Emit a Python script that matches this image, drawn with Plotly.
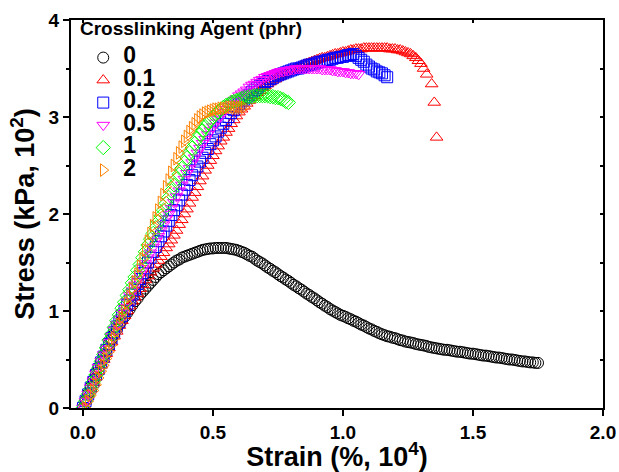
import plotly.graph_objects as go

legend_labels = ["0", "0.1", "0.2", "0.5", "1", "2"]
legend_title = "Crosslinking Agent (phr)"
colors = ["#000000", "#FF0000", "#0000FF", "#FF00FF", "#00FF00", "#FF8000"]
symbols = ["circle-open", "triangle-up-open", "square-open", "triangle-down-open", "diamond-open", "triangle-right-open"]

# --- 0 phr ---
x0 = [0.00, 0.01, 0.02, 0.03, 0.04, 0.05, 0.06, 0.07, 0.08, 0.09,
      0.10, 0.11, 0.12, 0.13, 0.14, 0.15, 0.16, 0.17, 0.18, 0.19,
      0.20, 0.21, 0.22, 0.23, 0.24, 0.25, 0.26, 0.27, 0.28, 0.29,
      0.30, 0.31, 0.32, 0.33, 0.34, 0.35, 0.36, 0.37, 0.38, 0.39,
      0.40, 0.41, 0.42, 0.43, 0.44, 0.45, 0.46, 0.47, 0.48, 0.49,
      0.50, 0.51, 0.52, 0.53, 0.54, 0.55, 0.56, 0.57, 0.58, 0.59,
      0.60, 0.61, 0.62, 0.63, 0.64, 0.65, 0.66, 0.67, 0.68, 0.69,
      0.70, 0.71, 0.72, 0.73, 0.74, 0.75, 0.76, 0.77, 0.78, 0.79,
      0.80, 0.81, 0.82, 0.83, 0.84, 0.85, 0.86, 0.87, 0.88, 0.89,
      0.90, 0.91, 0.92, 0.93, 0.94, 0.95, 0.96, 0.97, 0.98, 0.99,
      1.00, 1.01, 1.02, 1.03, 1.04, 1.05, 1.06, 1.07, 1.08, 1.09,
      1.10, 1.11, 1.12, 1.13, 1.14, 1.15, 1.16, 1.17, 1.18, 1.19,
      1.20, 1.21, 1.22, 1.23, 1.24, 1.25, 1.26, 1.27, 1.28, 1.29,
      1.30, 1.31, 1.32, 1.33, 1.34, 1.35, 1.36, 1.37, 1.38, 1.39,
      1.40, 1.41, 1.42, 1.43, 1.44, 1.45, 1.46, 1.47, 1.48, 1.49,
      1.50, 1.51, 1.52, 1.53, 1.54, 1.55, 1.56, 1.57, 1.58, 1.59,
      1.60, 1.61, 1.62, 1.63, 1.64, 1.65, 1.66, 1.67, 1.68, 1.69,
      1.70, 1.71, 1.72, 1.73, 1.74, 1.75]
y0 = [0.00, 0.08, 0.15, 0.22, 0.29, 0.36, 0.42, 0.48, 0.54, 0.60,
      0.66, 0.71, 0.76, 0.81, 0.86, 0.90, 0.94, 0.98, 1.02, 1.06,
      1.10, 1.13, 1.17, 1.20, 1.23, 1.26, 1.29, 1.32, 1.35, 1.38,
      1.40, 1.42, 1.44, 1.46, 1.48, 1.50, 1.52, 1.53, 1.55, 1.56,
      1.57, 1.58, 1.59, 1.60, 1.61, 1.62, 1.63, 1.635, 1.64, 1.645,
      1.645, 1.65, 1.65, 1.65, 1.65, 1.65, 1.645, 1.64, 1.635, 1.63,
      1.62, 1.61, 1.60, 1.585, 1.57, 1.56, 1.54, 1.52, 1.505, 1.49,
      1.47, 1.45, 1.435, 1.415, 1.40, 1.38, 1.36, 1.345, 1.325, 1.31,
      1.29, 1.27, 1.255, 1.235, 1.22, 1.20, 1.18, 1.165, 1.145, 1.13,
      1.11, 1.09, 1.075, 1.055, 1.04, 1.02, 1.005, 0.99, 0.975, 0.96,
      0.95, 0.94, 0.925, 0.915, 0.90, 0.89, 0.875, 0.86, 0.85, 0.835,
      0.82, 0.81, 0.795, 0.785, 0.77, 0.76, 0.75, 0.74, 0.735, 0.725,
      0.72, 0.71, 0.70, 0.695, 0.685, 0.68, 0.675, 0.67, 0.66, 0.655,
      0.65, 0.645, 0.64, 0.63, 0.625, 0.62, 0.615, 0.61, 0.605, 0.60,
      0.60, 0.595, 0.59, 0.585, 0.58, 0.58, 0.575, 0.57, 0.565, 0.56,
      0.56, 0.555, 0.55, 0.545, 0.54, 0.54, 0.535, 0.53, 0.525, 0.52,
      0.52, 0.515, 0.51, 0.505, 0.50, 0.50, 0.495, 0.49, 0.485, 0.48,
      0.48, 0.475, 0.47, 0.47, 0.465, 0.465]

# --- 0.1 phr ---
x1 = [0.00, 0.01, 0.02, 0.03, 0.04, 0.05, 0.06, 0.07, 0.08, 0.09,
      0.10, 0.11, 0.12, 0.13, 0.14, 0.15, 0.16, 0.17, 0.18, 0.19,
      0.20, 0.21, 0.22, 0.23, 0.24, 0.25, 0.26, 0.27, 0.28, 0.29,
      0.30, 0.31, 0.32, 0.33, 0.34, 0.35, 0.36, 0.37, 0.38, 0.39,
      0.40, 0.41, 0.42, 0.43, 0.44, 0.45, 0.46, 0.47, 0.48, 0.49,
      0.50, 0.51, 0.52, 0.53, 0.54, 0.55, 0.56, 0.57, 0.58, 0.59,
      0.60, 0.61, 0.62, 0.63, 0.64, 0.65, 0.66, 0.67, 0.68, 0.69,
      0.70, 0.71, 0.72, 0.73, 0.74, 0.75, 0.76, 0.77, 0.78, 0.79,
      0.80, 0.81, 0.82, 0.83, 0.84, 0.85, 0.86, 0.87, 0.88, 0.89,
      0.90, 0.91, 0.92, 0.93, 0.94, 0.95, 0.96, 0.97, 0.98, 0.99,
      1.00, 1.01, 1.02, 1.03, 1.04, 1.05, 1.06, 1.07, 1.08, 1.09,
      1.10, 1.11, 1.12, 1.13, 1.14, 1.15, 1.16, 1.17, 1.18, 1.19,
      1.20, 1.21, 1.22, 1.23, 1.24, 1.25, 1.26, 1.27, 1.28, 1.29,
      1.30, 1.31, 1.322, 1.341, 1.351, 1.36]
y1 = [0.00, 0.07, 0.14, 0.20, 0.26, 0.32, 0.38, 0.44, 0.50, 0.56,
      0.62, 0.68, 0.74, 0.79, 0.85, 0.90, 0.95, 1.00, 1.05, 1.10,
      1.14, 1.18, 1.23, 1.27, 1.32, 1.36, 1.40, 1.44, 1.48, 1.52,
      1.56, 1.60, 1.65, 1.69, 1.73, 1.78, 1.83, 1.89, 1.94, 2.00,
      2.05, 2.11, 2.17, 2.22, 2.28, 2.34, 2.39, 2.45, 2.50, 2.55,
      2.60, 2.65, 2.70, 2.75, 2.79, 2.84, 2.88, 2.93, 2.97, 3.01,
      3.05, 3.08, 3.11, 3.14, 3.17, 3.20, 3.22, 3.25, 3.27, 3.30,
      3.32, 3.34, 3.36, 3.38, 3.39, 3.41, 3.42, 3.44, 3.45, 3.47,
      3.48, 3.49, 3.50, 3.51, 3.53, 3.54, 3.55, 3.56, 3.57, 3.58,
      3.59, 3.60, 3.61, 3.61, 3.62, 3.63, 3.64, 3.65, 3.65, 3.66,
      3.67, 3.67, 3.68, 3.69, 3.69, 3.70, 3.70, 3.70, 3.71, 3.71,
      3.71, 3.71, 3.71, 3.71, 3.71, 3.71, 3.71, 3.71, 3.70, 3.70,
      3.70, 3.69, 3.69, 3.68, 3.67, 3.66, 3.65, 3.63, 3.61, 3.58,
      3.55, 3.50, 3.44, 3.34, 3.15, 2.79]

# --- 0.2 phr ---
x2 = [0.00, 0.01, 0.02, 0.03, 0.04, 0.05, 0.06, 0.07, 0.08, 0.09,
      0.10, 0.11, 0.12, 0.13, 0.14, 0.15, 0.16, 0.17, 0.18, 0.19,
      0.20, 0.21, 0.22, 0.23, 0.24, 0.25, 0.26, 0.27, 0.28, 0.29,
      0.30, 0.31, 0.32, 0.33, 0.34, 0.35, 0.36, 0.37, 0.38, 0.39,
      0.40, 0.41, 0.42, 0.43, 0.44, 0.45, 0.46, 0.47, 0.48, 0.49,
      0.50, 0.51, 0.52, 0.53, 0.54, 0.55, 0.56, 0.57, 0.58, 0.59,
      0.60, 0.61, 0.62, 0.63, 0.64, 0.65, 0.66, 0.67, 0.68, 0.69,
      0.70, 0.71, 0.72, 0.73, 0.74, 0.75, 0.76, 0.77, 0.78, 0.79,
      0.80, 0.81, 0.82, 0.83, 0.84, 0.85, 0.86, 0.87, 0.88, 0.89,
      0.90, 0.91, 0.92, 0.93, 0.94, 0.95, 0.96, 0.97, 0.98, 0.99,
      1.00, 1.01, 1.02, 1.03, 1.04, 1.05, 1.06, 1.07, 1.08, 1.09,
      1.10, 1.11, 1.12, 1.13, 1.14, 1.15, 1.16, 1.17]
y2 = [0.00, 0.07, 0.14, 0.21, 0.27, 0.34, 0.40, 0.47, 0.53, 0.60,
      0.66, 0.72, 0.78, 0.84, 0.89, 0.95, 1.00, 1.06, 1.11, 1.17,
      1.22, 1.28, 1.33, 1.39, 1.44, 1.50, 1.55, 1.61, 1.66, 1.72,
      1.77, 1.82, 1.88, 1.93, 1.99, 2.04, 2.09, 2.14, 2.20, 2.25,
      2.30, 2.35, 2.40, 2.45, 2.49, 2.54, 2.58, 2.63, 2.67, 2.72,
      2.76, 2.80, 2.85, 2.89, 2.93, 2.97, 3.00, 3.04, 3.07, 3.10,
      3.13, 3.16, 3.18, 3.21, 3.23, 3.26, 3.28, 3.30, 3.32, 3.34,
      3.36, 3.37, 3.39, 3.40, 3.42, 3.43, 3.44, 3.45, 3.46, 3.47,
      3.48, 3.49, 3.50, 3.50, 3.51, 3.52, 3.53, 3.54, 3.54, 3.55,
      3.56, 3.57, 3.57, 3.58, 3.59, 3.59, 3.60, 3.61, 3.61, 3.62,
      3.62, 3.63, 3.64, 3.64, 3.65, 3.63, 3.61, 3.59, 3.57, 3.54,
      3.52, 3.50, 3.49, 3.47, 3.46, 3.45, 3.43, 3.41]

# --- 0.5 phr ---
x3 = [0.00, 0.01, 0.02, 0.03, 0.04, 0.05, 0.06, 0.07, 0.08, 0.09,
      0.10, 0.11, 0.12, 0.13, 0.14, 0.15, 0.16, 0.17, 0.18, 0.19,
      0.20, 0.21, 0.22, 0.23, 0.24, 0.25, 0.26, 0.27, 0.28, 0.29,
      0.30, 0.31, 0.32, 0.33, 0.34, 0.35, 0.36, 0.37, 0.38, 0.39,
      0.40, 0.41, 0.42, 0.43, 0.44, 0.45, 0.46, 0.47, 0.48, 0.49,
      0.50, 0.51, 0.52, 0.53, 0.54, 0.55, 0.56, 0.57, 0.58, 0.59,
      0.60, 0.61, 0.62, 0.63, 0.64, 0.65, 0.66, 0.67, 0.68, 0.69,
      0.70, 0.71, 0.72, 0.73, 0.74, 0.75, 0.76, 0.77, 0.78, 0.79,
      0.80, 0.81, 0.82, 0.83, 0.84, 0.85, 0.86, 0.87, 0.88, 0.89,
      0.90, 0.91, 0.92, 0.93, 0.94, 0.95, 0.96, 0.97, 0.98, 0.99,
      1.00, 1.01, 1.02, 1.03, 1.04, 1.05, 1.06]
y3 = [0.00, 0.07, 0.14, 0.21, 0.28, 0.35, 0.42, 0.48, 0.55, 0.61,
      0.68, 0.74, 0.80, 0.86, 0.92, 0.98, 1.04, 1.10, 1.16, 1.21,
      1.27, 1.33, 1.38, 1.44, 1.49, 1.55, 1.60, 1.66, 1.72, 1.77,
      1.83, 1.89, 1.95, 2.00, 2.06, 2.12, 2.18, 2.24, 2.30, 2.36,
      2.42, 2.47, 2.53, 2.58, 2.63, 2.68, 2.73, 2.77, 2.82, 2.86,
      2.90, 2.94, 2.98, 3.01, 3.05, 3.08, 3.11, 3.14, 3.17, 3.19,
      3.22, 3.24, 3.26, 3.28, 3.31, 3.33, 3.34, 3.36, 3.38, 3.39,
      3.41, 3.42, 3.43, 3.44, 3.45, 3.46, 3.47, 3.47, 3.48, 3.48,
      3.49, 3.49, 3.50, 3.50, 3.50, 3.50, 3.50, 3.50, 3.50, 3.50,
      3.50, 3.50, 3.49, 3.49, 3.49, 3.49, 3.48, 3.48, 3.47, 3.47,
      3.47, 3.46, 3.46, 3.45, 3.45, 3.45, 3.44]

# --- 1 phr ---
x4 = [0.00, 0.01, 0.02, 0.03, 0.04, 0.05, 0.06, 0.07, 0.08, 0.09,
      0.10, 0.11, 0.12, 0.13, 0.14, 0.15, 0.16, 0.17, 0.18, 0.19,
      0.20, 0.21, 0.22, 0.23, 0.24, 0.25, 0.26, 0.27, 0.28, 0.29,
      0.30, 0.31, 0.32, 0.33, 0.34, 0.35, 0.36, 0.37, 0.38, 0.39,
      0.40, 0.41, 0.42, 0.43, 0.44, 0.45, 0.46, 0.47, 0.48, 0.49,
      0.50, 0.51, 0.52, 0.53, 0.54, 0.55, 0.56, 0.57, 0.58, 0.59,
      0.60, 0.61, 0.62, 0.63, 0.64, 0.65, 0.66, 0.67, 0.68, 0.69,
      0.70, 0.71, 0.72, 0.73, 0.74, 0.75, 0.76, 0.77, 0.78, 0.79]
y4 = [0.00, 0.07, 0.14, 0.20, 0.27, 0.34, 0.41, 0.48, 0.55, 0.62,
      0.70, 0.76, 0.83, 0.90, 0.96, 1.03, 1.09, 1.16, 1.22, 1.29,
      1.35, 1.42, 1.48, 1.55, 1.61, 1.68, 1.74, 1.80, 1.86, 1.92,
      1.98, 2.04, 2.11, 2.17, 2.24, 2.30, 2.36, 2.41, 2.47, 2.53,
      2.58, 2.63, 2.68, 2.73, 2.78, 2.82, 2.86, 2.90, 2.94, 2.97,
      3.00, 3.03, 3.05, 3.08, 3.10, 3.12, 3.13, 3.15, 3.16, 3.17,
      3.18, 3.19, 3.20, 3.20, 3.21, 3.21, 3.22, 3.22, 3.22, 3.22,
      3.22, 3.22, 3.21, 3.21, 3.20, 3.20, 3.19, 3.18, 3.16, 3.15]

# --- 2 phr ---
x5 = [0.01, 0.02, 0.03, 0.04, 0.05, 0.06, 0.07, 0.08, 0.09,
      0.10, 0.11, 0.12, 0.13, 0.14, 0.15, 0.16, 0.17, 0.18, 0.19,
      0.20, 0.21, 0.22, 0.23, 0.24, 0.25, 0.26, 0.27, 0.28, 0.29,
      0.30, 0.31, 0.32, 0.33, 0.34, 0.35, 0.36, 0.37, 0.38, 0.39,
      0.40, 0.41, 0.42, 0.43, 0.44, 0.45, 0.46, 0.47, 0.48, 0.49,
      0.50, 0.51, 0.52, 0.53, 0.54, 0.55, 0.56, 0.57, 0.58, 0.59,
      0.60, 0.61, 0.62]
y5 = [0.00, 0.07, 0.13, 0.18, 0.24, 0.31, 0.38, 0.44, 0.51,
      0.58, 0.65, 0.72, 0.79, 0.86, 0.93, 1.00, 1.08, 1.15, 1.23,
      1.30, 1.38, 1.46, 1.54, 1.63, 1.72, 1.80, 1.88, 1.96, 2.04,
      2.12, 2.20, 2.28, 2.35, 2.43, 2.50, 2.57, 2.63, 2.69, 2.75,
      2.80, 2.85, 2.89, 2.93, 2.97, 3.00, 3.02, 3.04, 3.05, 3.06,
      3.07, 3.08, 3.08, 3.09, 3.09, 3.09, 3.10, 3.10, 3.10, 3.10,
      3.10, 3.10, 3.10]

xs = [x0, x1, x2, x3, x4, x5]
ys = [y0, y1, y2, y3, y4, y5]

x_ticks = [0.0, 0.5, 1.0, 1.5, 2.0]
y_ticks = [0, 1, 2, 3, 4]

FONT = "Liberation Sans, Arial, sans-serif"

fig = go.Figure()
for xv, yv, lab, col, sym in zip(xs, ys, legend_labels, colors, symbols):
    fig.add_trace(go.Scatter(
        x=xv, y=yv, mode="markers",
        name="<span style='font-size:23px'>" + lab + "</span>",
        marker=dict(symbol=sym, size=11, color=col, line=dict(color=col, width=1)),
    ))

# helper trace for the mirrored (top/right) axes
fig.add_trace(go.Scatter(x=[None], y=[None], xaxis="x2", yaxis="y2",
                         mode="markers", showlegend=False, hoverinfo="skip"))

fig.add_annotation(
    text=legend_title, xref="paper", yref="paper",
    x=0.013, y=0.977, xanchor="left", yanchor="middle", showarrow=False,
    font=dict(family=FONT, size=19, weight="bold", color="black"),
)

fig.update_layout(
    width=619, height=472,
    margin=dict(l=71, r=16, t=20, b=64, autoexpand=False),
    paper_bgcolor="white", plot_bgcolor="white",
    font=dict(family=FONT, color="black"),
    showlegend=True,
    legend=dict(
        x=0.023, y=0.945, xanchor="left", yanchor="top",
        bgcolor="rgba(0,0,0,0)",
        font=dict(family=FONT, size=15, weight="bold", color="black"),
        itemwidth=30,
        tracegroupgap=0,
    ),
    xaxis=dict(
        range=[-0.046, 2.0], tickvals=x_ticks, tickformat=".1f",
        ticks="outside", ticklen=6, tickwidth=2, tickcolor="black",
        showline=True, linewidth=2, linecolor="black",
        showgrid=False, zeroline=False, automargin=False,
        tickfont=dict(family=FONT, size=19, weight="bold"),
        title=dict(text="Strain (%, 10<sup>4</sup>)",
                   font=dict(family=FONT, size=27, weight="bold"), standoff=3),
    ),
    yaxis=dict(
        range=[0, 4], tickvals=y_ticks,
        ticks="outside", ticklen=6, tickwidth=2, tickcolor="black",
        minor=dict(dtick=0.5, ticks="outside", ticklen=3, tickwidth=1.5, tickcolor="black"),
        showline=True, linewidth=2, linecolor="black",
        showgrid=False, zeroline=False, automargin=False,
        tickfont=dict(family=FONT, size=19, weight="bold"),
        title=dict(text="Stress (kPa, 10<sup>2</sup>)",
                   font=dict(family=FONT, size=27, weight="bold"), standoff=6),
    ),
    xaxis2=dict(
        overlaying="x", side="top", range=[-0.046, 2.0], tickvals=x_ticks,
        ticks="inside", ticklen=3, tickwidth=1.5, tickcolor="black",
        showticklabels=False, showline=True, linewidth=2, linecolor="black",
        showgrid=False, zeroline=False, automargin=False,
    ),
    yaxis2=dict(
        overlaying="y", side="right", range=[0, 4], dtick=0.5, tick0=0,
        ticks="inside", ticklen=3, tickwidth=1.5, tickcolor="black",
        showticklabels=False, showline=True, linewidth=2, linecolor="black",
        showgrid=False, zeroline=False, automargin=False,
    ),
)

fig.write_html("out.html")
